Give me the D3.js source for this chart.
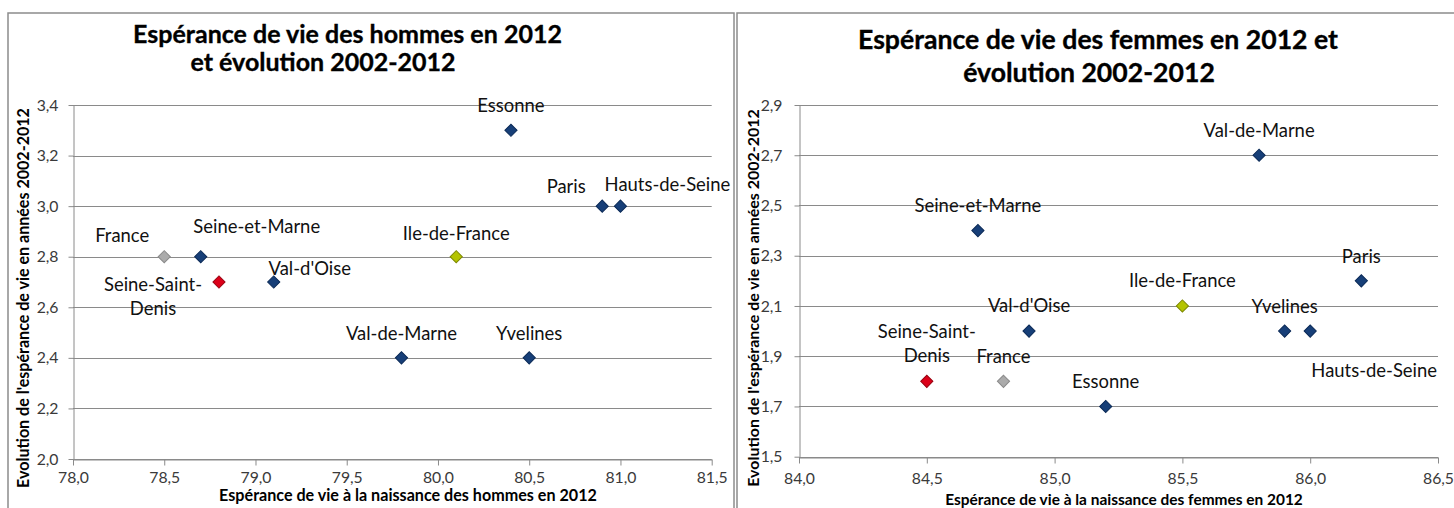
<!DOCTYPE html>
<html>
<head>
<meta charset="utf-8">
<script src="https://cdn.jsdelivr.net/npm/d3@7"></script>
<style>
  body { margin: 0; background: #fff; }
  svg { display: block; }
  text { font-family: Lato, "Open Sans", "DejaVu Sans", sans-serif; }
</style>
</head>
<body>
<svg id="chart" width="1454" height="508"></svg>
<script>
// ---- Hommes ----
const menRegions = ["France", "Seine-et-Marne", "Seine-Saint-Denis", "Val-d'Oise", "Val-de-Marne",
                    "Ile-de-France", "Essonne", "Yvelines", "Paris", "Hauts-de-Seine"];
const menLifeExp = [78.5, 78.7, 78.8, 79.1, 79.8, 80.1, 80.4, 80.5, 80.9, 81.0];
const menChange  = [2.8, 2.8, 2.7, 2.7, 2.4, 2.8, 3.3, 2.4, 3.0, 3.0];
const menXTicks  = [78.0, 78.5, 79.0, 79.5, 80.0, 80.5, 81.0, 81.5];
const menYTicks  = [2.0, 2.2, 2.4, 2.6, 2.8, 3.0, 3.2, 3.4];

// ---- Femmes ----
const womenRegions = ["Seine-Saint-Denis", "Seine-et-Marne", "France", "Val-d'Oise", "Essonne",
                      "Ile-de-France", "Val-de-Marne", "Yvelines", "Hauts-de-Seine", "Paris"];
const womenLifeExp = [84.5, 84.7, 84.8, 84.9, 85.2, 85.5, 85.8, 85.9, 86.0, 86.2];
const womenChange  = [1.8, 2.4, 1.8, 2.0, 1.7, 2.1, 2.7, 2.0, 2.0, 2.2];
const womenXTicks  = [84.0, 84.5, 85.0, 85.5, 86.0, 86.5];
const womenYTicks  = [1.5, 1.7, 1.9, 2.1, 2.3, 2.5, 2.7, 2.9];

// marker style per territory
const markerFill = { "France": "#ababab", "Ile-de-France": "#b4c400", "Seine-Saint-Denis": "#dc0019" };
const markerStroke = { "France": "#8a8a8a", "Ile-de-France": "#7d8800", "Seine-Saint-Denis": "#98000f" };
const defaultFill = "#173f78", defaultStroke = "#0b2a57";

// label placement: [dx, dy] of first baseline relative to the marker
const menLabelPos = {
  "France": [-42, -15], "Seine-et-Marne": [56, -24], "Seine-Saint-Denis": [-66, 9],
  "Val-d'Oise": [36, -7], "Val-de-Marne": [0, -18], "Ile-de-France": [0, -17],
  "Essonne": [0, -18], "Yvelines": [0, -18], "Paris": [-36, -13], "Hauts-de-Seine": [47, -15]
};
const womenLabelPos = {
  "Seine-Saint-Denis": [0, -43], "Seine-et-Marne": [0, -19], "France": [0, -18],
  "Val-d'Oise": [0, -19], "Essonne": [0, -18], "Ile-de-France": [0, -19],
  "Val-de-Marne": [0, -18], "Yvelines": [0, -18], "Hauts-de-Seine": [64, 46], "Paris": [0, -18]
};
const labelLines = { "Seine-Saint-Denis": ["Seine-Saint-", "Denis"] };

const fr = d3.formatLocale({ decimal: ",", thousands: " ", grouping: [3], currency: ["", " €"] });
const fmt = fr.format(".1f");

const svg = d3.select("#chart");

// font-size that makes a string reach a given width
function fitSize(str, weight, target, base) {
  const t = svg.append("text").attr("font-size", base).attr("font-weight", weight).text(str);
  const w = t.node().getComputedTextLength();
  t.remove();
  return base * target / w;
}

const labelSize = fitSize("Seine-et-Marne", 400, 127, 16);
const tickSize = fitSize("78,0", 400, 31, 15);

function drawChart(cfg) {
  const g = svg.append("g");

  // frame
  g.append("rect")
    .attr("x", cfg.frame[0]).attr("y", cfg.frame[1])
    .attr("width", cfg.frame[2]).attr("height", cfg.frame[3])
    .attr("fill", "#fff").attr("stroke", "#8c8c8c").attr("stroke-width", 1.5);

  const x = d3.scaleLinear().domain(cfg.xDomain).range([cfg.plot.left, cfg.plot.right]);
  const y = d3.scaleLinear().domain(cfg.yDomain).range([cfg.plot.bottom, cfg.plot.top]);

  // horizontal gridlines
  g.append("g").selectAll("line").data(cfg.yTicks).join("line")
    .attr("x1", cfg.plot.left).attr("x2", cfg.plot.right)
    .attr("y1", d => Math.round(y(d)) + 0.5).attr("y2", d => Math.round(y(d)) + 0.5)
    .attr("stroke", "#8a8a8a").attr("stroke-width", 1);

  // y axis
  const yAxis = g.append("g")
    .attr("transform", `translate(${Math.round(cfg.plot.left) + 0.5},0)`)
    .call(d3.axisLeft(y).tickValues(cfg.yTicks).tickFormat(fmt).tickSize(5).tickSizeOuter(0).tickPadding(cfg.yPad));
  // x axis
  const xAxis = g.append("g")
    .attr("transform", `translate(0,${Math.round(cfg.plot.bottom) + 0.5})`)
    .call(d3.axisBottom(x).tickValues(cfg.xTicks).tickFormat(fmt).tickSize(6).tickSizeOuter(0).tickPadding(cfg.xPad));
  [yAxis, xAxis].forEach(a => {
    a.select(".domain").attr("stroke", "#8a8a8a");
    a.selectAll(".tick line").attr("stroke", "#8a8a8a");
    a.selectAll(".tick text").attr("fill", "#3a3a3a")
      .attr("font-size", tickSize).attr("font-family", "Lato, 'Open Sans', sans-serif");
  });

  // titles
  const tSize = fitSize(cfg.title[0], 700, cfg.titleWidth, 24);
  cfg.title.forEach((line, i) => {
    g.append("text").attr("x", cfg.titlePos[i][0]).attr("y", cfg.titlePos[i][1])
      .attr("text-anchor", "middle").attr("font-weight", 700).attr("font-size", tSize)
      .attr("fill", "#000").attr("stroke", "#000").attr("stroke-width", 0.35)
      .text(line);
  });

  const xtSize = fitSize(cfg.xTitle, 700, cfg.xTitleWidth, 14);
  g.append("text").attr("x", cfg.xTitlePos[0]).attr("y", cfg.xTitlePos[1])
    .attr("text-anchor", "middle").attr("font-weight", 700).attr("font-size", xtSize)
    .attr("fill", "#000").text(cfg.xTitle);

  const ytSize = fitSize(cfg.yTitle, 700, cfg.yTitleWidth, 14);
  g.append("text")
    .attr("transform", `translate(${cfg.yTitlePos[0]},${cfg.yTitlePos[1]}) rotate(-90)`)
    .attr("text-anchor", "middle").attr("font-weight", 700).attr("font-size", ytSize)
    .attr("fill", "#000").text(cfg.yTitle);

  // markers
  const pts = cfg.regions.map((r, i) => ({ name: r, vx: cfg.xs[i], vy: cfg.ys[i] }));
  const sym = d3.symbol(d3.symbolSquare, 74);
  g.append("g").selectAll("path").data(pts).join("path")
    .attr("d", sym)
    .attr("transform", d => `translate(${x(d.vx)},${y(d.vy)}) rotate(45)`)
    .attr("fill", d => markerFill[d.name] || defaultFill)
    .attr("stroke", d => markerStroke[d.name] || defaultStroke)
    .attr("stroke-width", 1);

  // data labels
  const lab = g.append("g").selectAll("text").data(pts).join("text")
    .attr("text-anchor", "middle").attr("font-size", labelSize).attr("fill", "#111")
    .attr("x", d => x(d.vx) + cfg.labelPos[d.name][0])
    .attr("y", d => y(d.vy) + cfg.labelPos[d.name][1]);
  lab.each(function (d) {
    const lines = labelLines[d.name] || [d.name];
    const t = d3.select(this);
    lines.forEach((ln, i) => {
      t.append("tspan").attr("x", x(d.vx) + cfg.labelPos[d.name][0])
        .attr("dy", i === 0 ? 0 : 24).text(ln);
    });
  });
}

drawChart({
  frame: [8, 13, 726, 520],
  plot: { left: 73, right: 711.7, top: 105, bottom: 459 },
  xDomain: [78.0, 81.5], yDomain: [2.0, 3.4],
  xTicks: menXTicks, yTicks: menYTicks,
  yPad: 10, xPad: 6,
  regions: menRegions, xs: menLifeExp, ys: menChange,
  labelPos: menLabelPos,
  title: ["Espérance de vie des hommes en 2012", "et évolution 2002-2012"],
  titleWidth: 429, titlePos: [[347.5, 43], [323, 71]],
  xTitle: "Espérance de vie à la naissance des hommes en 2012",
  xTitleWidth: 378, xTitlePos: [408, 501],
  yTitle: "Evolution de l'espérance de vie en années 2002-2012",
  yTitleWidth: 380, yTitlePos: [29, 298]
});

drawChart({
  frame: [737, 13, 730, 520],
  plot: { left: 799, right: 1438, top: 105, bottom: 456.7 },
  xDomain: [84.0, 86.5], yDomain: [1.5, 2.9],
  xTicks: womenXTicks, yTicks: womenYTicks,
  yPad: 12, xPad: 9,
  regions: womenRegions, xs: womenLifeExp, ys: womenChange,
  labelPos: womenLabelPos,
  title: ["Espérance de vie des femmes en 2012 et", "évolution 2002-2012"],
  titleWidth: 480, titlePos: [[1098, 49], [1089, 82]],
  xTitle: "Espérance de vie à la naissance des femmes en 2012",
  xTitleWidth: 358, xTitlePos: [1124, 505],
  yTitle: "Evolution de l'espérance de vie en années 2002-2012",
  yTitleWidth: 378, yTitlePos: [759, 298]
});
</script>
</body>
</html>
